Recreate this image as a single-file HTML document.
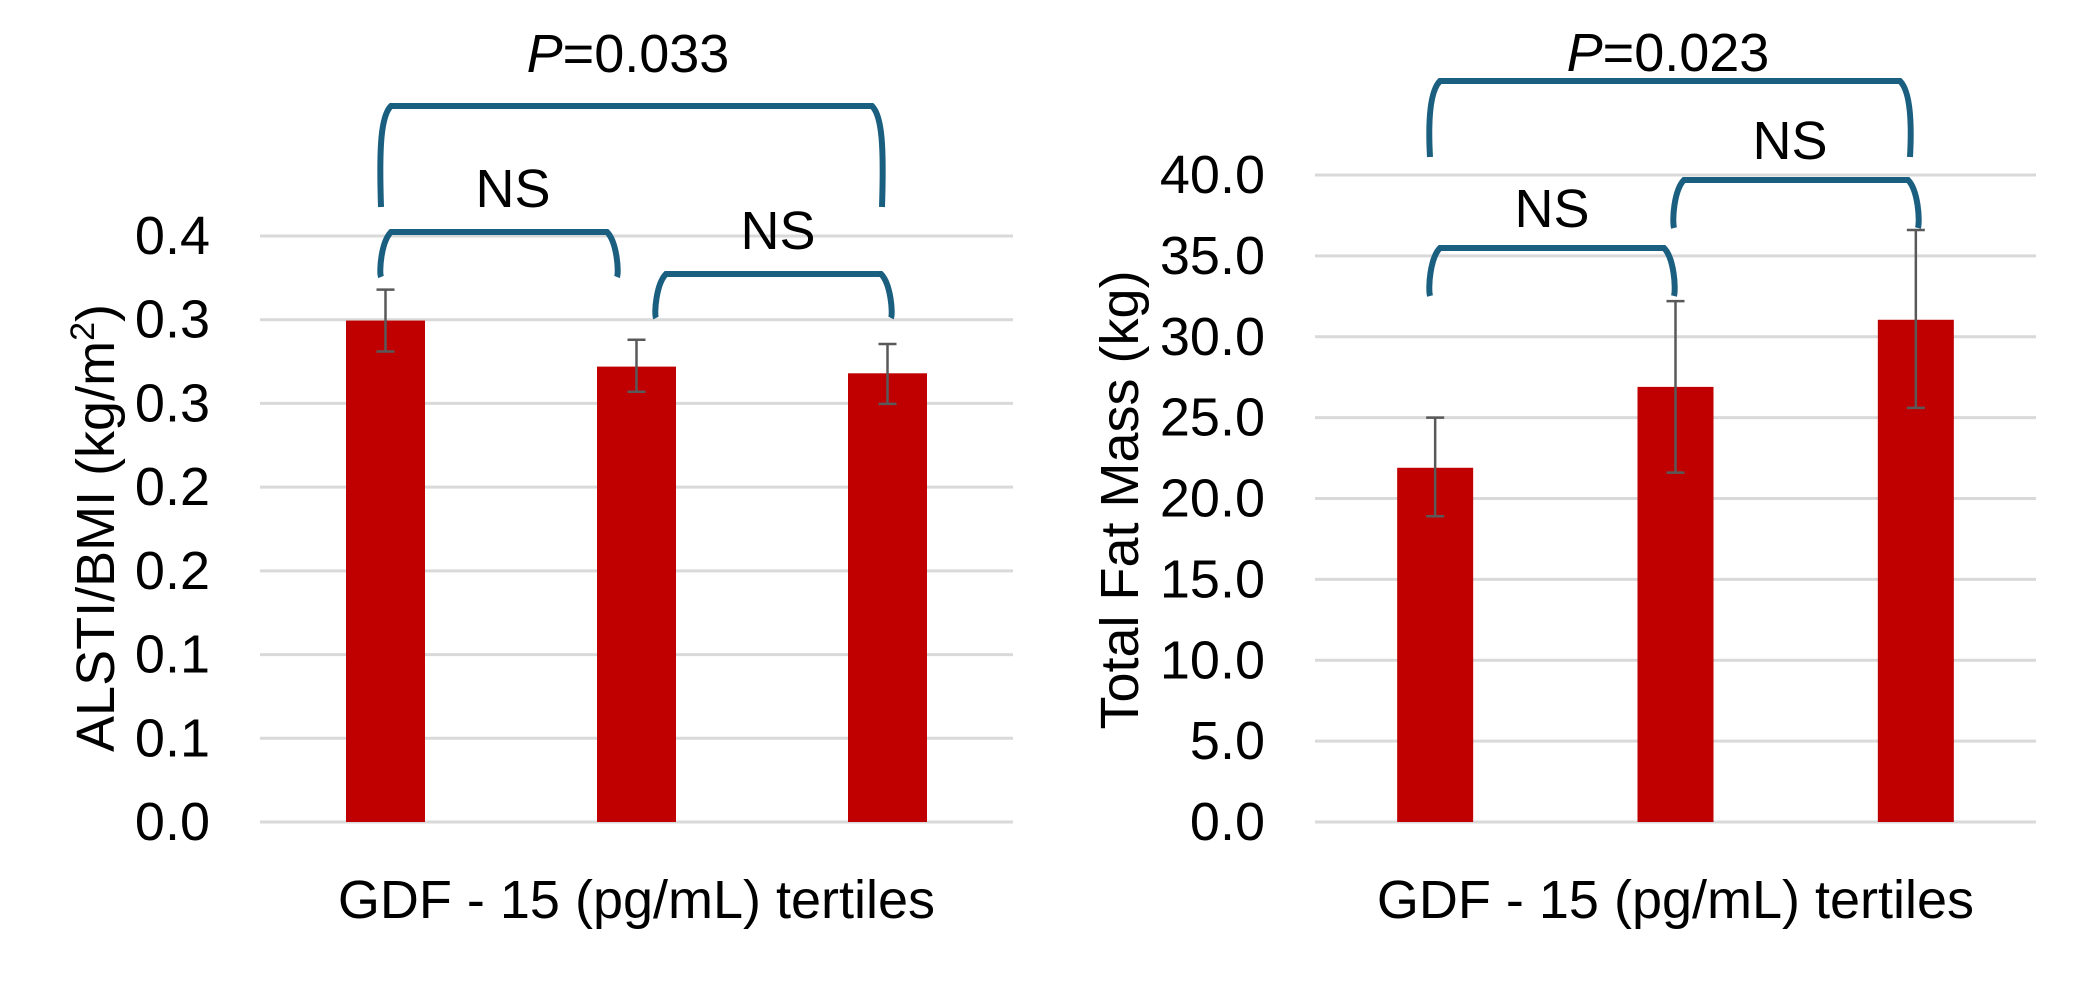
<!DOCTYPE html>
<html><head><meta charset="utf-8"><style>
html,body{margin:0;padding:0;background:#fff}
svg{display:block}
text{font-family:"Liberation Sans",Arial,sans-serif;fill:#000}
</style></head><body>
<svg id="c" width="2090" height="990" viewBox="0 0 2090 990" xmlns="http://www.w3.org/2000/svg"></svg>
<script>
// Left chart data
const leftCategories = ["T1","T2","T3"];
const leftValues = [0.2995, 0.272, 0.268];
const leftErrHigh = [0.318, 0.288, 0.2855];
const leftErrLow = [0.281, 0.257, 0.2497];
const leftTicks = [0,0.05,0.1,0.15,0.2,0.25,0.3,0.35];
const leftTickLabels = ["0.0","0.1","0.1","0.2","0.2","0.3","0.3","0.4"];
// Right chart data
const rightCategories = ["T1","T2","T3"];
const rightValues = [21.9, 26.9, 31.05];
const rightErrHigh = [25.0, 32.2, 36.6];
const rightErrLow = [18.9, 21.6, 25.6];
const rightTicks = [0,5,10,15,20,25,30,35,40];
const rightTickLabels = ["0.0","5.0","10.0","15.0","20.0","25.0","30.0","35.0","40.0"];

const NS = "http://www.w3.org/2000/svg";
const svg = document.getElementById('c');
function mk(tag, attrs, parent){
  const e = document.createElementNS(NS, tag);
  for (const k in attrs) e.setAttribute(k, attrs[k]);
  (parent||svg).appendChild(e);
  return e;
}
function bracket(g, x1, x2, top, b1, b2){
  const r = 10;
  const d = `M${x1},${b1} C${x1-2},${top+40} ${x1},${top+r} ${x1+r},${top} L${x2-r},${top} C${x2},${top+r} ${x2+2},${top+40} ${x2},${b2}`;
  return mk('path',{d:d,fill:'none',stroke:'#1b5f80','stroke-width':6},g);
}
function drawChart(cfg){
  const g = mk('g',{});
  
  
  const y = v => cfg.y0 - (v - 0) / cfg.max * (cfg.y0 - cfg.yTop);
  const bw = (cfg.x1 - cfg.x0) / cfg.cats.length;
  const xc = i => cfg.x0 + bw * (i + 0.5);
  cfg.ticks.forEach((t, i) => {
    const l = mk('line',{x1:cfg.x0,x2:cfg.x1,y1:y(t),y2:y(t),stroke:'#d9d9d9','stroke-width':3},g);
    
    
    const tx = mk('text',{x:cfg.labelX,y:y(t)+18,'text-anchor':'end','font-size':54},g);
    tx.textContent = cfg.tickLabels[i];
    
    
  });
  cfg.vals.forEach((v, i) => {
    const r = mk('rect',{x:xc(i)-cfg.barW/2,y:y(v),width:cfg.barW,height:y(0)-y(v),fill:'#c00000'},g);
    
    
    const eg = mk('g',{stroke:'#595959','stroke-width':2.5},g);
    
    
    const x = xc(i);
    mk('line',{x1:x,x2:x,y1:y(cfg.hi[i]),y2:y(cfg.lo[i])},eg);
    mk('line',{x1:x-9,x2:x+9,y1:y(cfg.hi[i]),y2:y(cfg.hi[i])},eg);
    mk('line',{x1:x-9,x2:x+9,y1:y(cfg.lo[i]),y2:y(cfg.lo[i])},eg);
  });
  const yt = mk('text',{x:0,y:0,'text-anchor':'middle','font-size':54,transform:`translate(${cfg.ytX},${cfg.ytY}) rotate(-90)`},g);
  yt.innerHTML = cfg.yTitle;
  
  
  const xt = mk('text',{x:(cfg.x0+cfg.x1)/2,y:cfg.xtY,'text-anchor':'middle','font-size':54},g);
  xt.textContent = 'GDF - 15 (pg/mL) tertiles';
  
  
  cfg.brackets.forEach(b => {
    const p = bracket(g, b[0], b[1], b[2], b[3], b[4]);
    
    
    const t = mk('text',{x:b[5],y:b[6],'text-anchor':'middle','font-size':54},g);
    t.innerHTML = b[7];
    
    
  });
}
drawChart({name:'left-chart', cats:leftCategories, vals:leftValues, hi:leftErrHigh, lo:leftErrLow,
  ticks:leftTicks, tickLabels:leftTickLabels, max:0.35, x0:260, x1:1013, y0:822, yTop:236, barW:79,
  labelX:210, ytX:114, ytY:528, xtY:918, yTitle:'ALSTI/BMI (kg/m<tspan font-size="34" dy="-20">2</tspan><tspan dy="20">)</tspan>',
  brackets:[
    [381,882,106,207,207,628,72,'<tspan font-style="italic">P</tspan>=0.033'],
    [381,617,232,277,277,513,207,'NS'],
    [656,891,274,318,318,778,249,'NS']
  ]});
drawChart({name:'right-chart', cats:rightCategories, vals:rightValues, hi:rightErrHigh, lo:rightErrLow,
  ticks:rightTicks, tickLabels:rightTickLabels, max:40, x0:1315, x1:2036, y0:822, yTop:175, barW:76,
  labelX:1265, ytX:1138, ytY:500, xtY:918, yTitle:'Total Fat Mass (kg)',
  brackets:[
    [1430,1910,81,157,157,1668,71,'<tspan font-style="italic">P</tspan>=0.023'],
    [1430,1674,248,296,296,1552,227,'NS'],
    [1674,1918,180,228,228,1790,159,'NS']
  ]});
</script>
</body></html>
